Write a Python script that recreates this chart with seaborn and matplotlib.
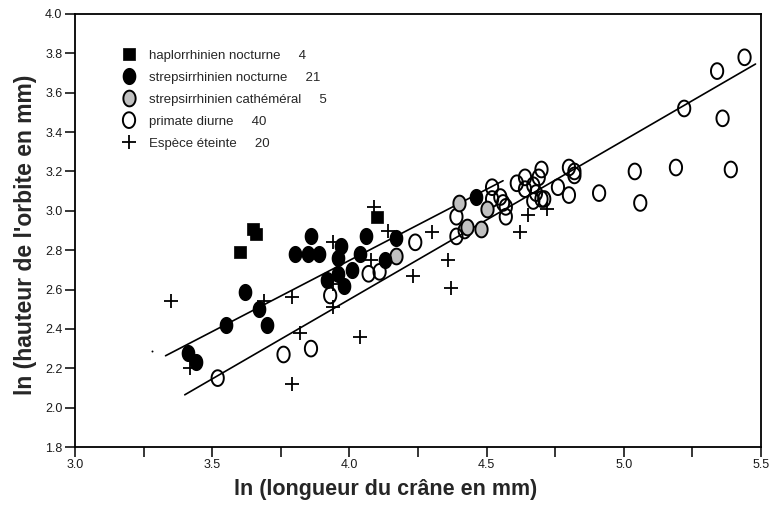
import numpy as np
import pandas as pd
import matplotlib
matplotlib.use("Agg")
import matplotlib.pyplot as plt
from matplotlib.path import Path
from matplotlib.ticker import MultipleLocator, FormatStrFormatter
import seaborn as sns

# --- data (ln skull length, ln orbit height) ---
hap_x = [3.60, 3.65, 3.66, 4.10]
hap_y = [2.79, 2.91, 2.88, 2.97]

noc_x = [3.41, 3.44, 3.55, 3.62, 3.67, 3.70, 3.80, 3.85, 3.89, 3.86, 3.97,
         3.96, 3.96, 4.01, 3.92, 3.98, 4.06, 4.04, 4.13, 4.17, 4.46]
noc_y = [2.28, 2.23, 2.42, 2.59, 2.50, 2.42, 2.78, 2.78, 2.78, 2.87, 2.82,
         2.76, 2.68, 2.70, 2.65, 2.62, 2.87, 2.78, 2.75, 2.86, 3.07]

cat_x = [4.17, 4.40, 4.50, 4.43, 4.48]
cat_y = [2.77, 3.04, 3.01, 2.92, 2.91]

diu_x = [3.52, 3.76, 3.86, 3.93, 4.07, 4.11, 4.24, 4.39, 4.39, 4.42,
         4.52, 4.52, 4.55, 4.56, 4.57, 4.57, 4.61, 4.64, 4.64, 4.67,
         4.69, 4.70, 4.68, 4.67, 4.70, 4.71, 4.76, 4.80, 4.80, 4.82,
         4.82, 4.91, 5.04, 5.06, 5.19, 5.22, 5.34, 5.36, 5.39, 5.44]
diu_y = [2.15, 2.27, 2.30, 2.57, 2.68, 2.69, 2.84, 2.97, 2.87, 2.90,
         3.12, 3.06, 3.07, 3.04, 3.02, 2.97, 3.14, 3.17, 3.11, 3.13,
         3.17, 3.21, 3.09, 3.05, 3.06, 3.06, 3.12, 3.08, 3.22, 3.20,
         3.18, 3.09, 3.20, 3.04, 3.22, 3.52, 3.71, 3.47, 3.21, 3.78]

ext_x = [3.35, 3.42, 3.69, 3.79, 3.82, 3.79, 4.09, 4.14, 4.30, 4.08,
         4.23, 4.36, 4.37, 3.94, 3.94, 3.94, 4.04, 4.65, 4.62, 4.72]
ext_y = [2.54, 2.20, 2.54, 2.56, 2.38, 2.12, 3.02, 2.90, 2.89, 2.75,
         2.67, 2.75, 2.61, 2.84, 2.63, 2.51, 2.36, 2.98, 2.89, 3.01]

stray_x = [3.28]
stray_y = [2.29]

# regression lines: (x start, x end, slope, intercept)
lines = [(3.33, 4.56, 0.723, -0.144),
         (3.40, 5.48, 0.808, -0.682)]

labels = ["haplorrhinien nocturne     4",
          "strepsirrhinien nocturne     21",
          "strepsirrhinien cathéméral     5",
          "primate diurne     40",
          "Espèce éteinte     20"]

sns.set_style("ticks")
plt.rcParams['font.family'] = ['Liberation Sans', 'DejaVu Sans']

# slightly tall ellipse marker, like the stretched circles of the original
t = np.linspace(0, 2 * np.pi, 64)
ellipse = Path(np.column_stack([0.78 * np.cos(t), np.sin(t)]), closed=True)

fig = plt.figure(figsize=(7.71, 5.05), dpi=100)
ax = fig.add_axes([75 / 771, 1 - 447 / 505, 686 / 771, 433 / 505])

for x0, x1, b, a in lines:
    xs = np.array([x0, x1])
    sns.lineplot(x=xs, y=a + b * xs, color="black", linewidth=1.2, ax=ax, zorder=2)

sns.scatterplot(x=hap_x, y=hap_y, marker="s", s=66, color="black",
                edgecolor="black", linewidth=0.5, label=labels[0], ax=ax, zorder=6)
sns.scatterplot(x=noc_x, y=noc_y, marker=ellipse, s=128, color="black",
                edgecolor="black", linewidth=1.0, label=labels[1], ax=ax, zorder=5)
sns.scatterplot(x=cat_x, y=cat_y, marker=ellipse, s=128, color="black",
                facecolor="#c0c0c0", edgecolor="black", linewidth=1.4,
                label=labels[2], ax=ax, zorder=4)
sns.scatterplot(x=diu_x, y=diu_y, marker=ellipse, s=128, color="black",
                facecolor="none", edgecolor="black", linewidth=1.4,
                label=labels[3], ax=ax, zorder=3)
sns.scatterplot(x=ext_x, y=ext_y, marker="+", s=92, color="black",
                linewidth=1.3, label=labels[4], ax=ax, zorder=3)
sns.scatterplot(x=stray_x, y=stray_y, marker="o", s=2, color="black",
                edgecolor="black", linewidth=0, ax=ax, zorder=3)

ax.set_xlim(3.0, 5.5)
ax.set_ylim(1.8, 4.0)
ax.xaxis.set_major_locator(MultipleLocator(0.5))
ax.xaxis.set_minor_locator(MultipleLocator(0.25))
ax.yaxis.set_major_locator(MultipleLocator(0.2))
ax.xaxis.set_major_formatter(FormatStrFormatter('%.1f'))
ax.yaxis.set_major_formatter(FormatStrFormatter('%.1f'))
ax.tick_params(which="both", direction="out", length=7, width=1.1,
               color="black", labelsize=9, labelcolor="#1a1a1a", pad=2)
ax.tick_params(axis="x", which="minor", labelbottom=False)

for sp in ax.spines.values():
    sp.set_color("black")
    sp.set_linewidth(1.3)

ax.set_xlabel("ln (longueur du crâne en mm)", fontsize=15.5, fontweight="bold")
ax.set_ylabel("ln (hauteur de l'orbite en mm)", fontsize=16.5, fontweight="bold")
ax.xaxis.set_label_coords(0.453, -0.074)
ax.yaxis.set_label_coords(-0.055, 0.49)

ax.legend(loc="upper left", bbox_to_anchor=(0.0672, 0.918), frameon=False,
          fontsize=9.5, borderpad=0, borderaxespad=0, handlelength=1.2,
          handletextpad=0.92, labelspacing=0.74, scatterpoints=1,
          scatteryoffsets=[0.5])

fig.savefig("out.png", dpi=100)
